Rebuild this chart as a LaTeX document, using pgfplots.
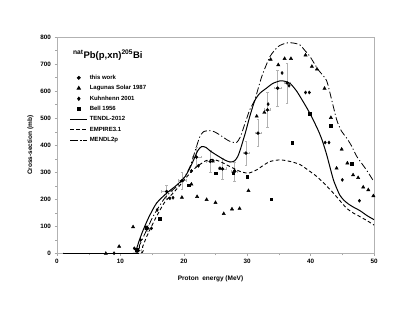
\documentclass[border=0pt]{standalone}
\usepackage{pgfplots}
\pgfplotsset{compat=1.18}
\usepackage{fontspec}
\setmainfont{Liberation Sans}
\usetikzlibrary{calc}

\begin{document}
\begin{tikzpicture}
\begin{axis}[
    scale only axis,
    width=317pt, height=216.5pt,
    xmin=0, xmax=50, ymin=0, ymax=800,
    xtick={0,10,...,50}, ytick={0,100,...,800},
    minor x tick num=1, minor y tick num=1,
    xtick pos=left, ytick pos=left,
    tick align=outside,
    major tick length=2.5pt, minor tick length=2pt,
    tick style={gray!70, line width=0.4pt},
    axis line style={gray!60, line width=0.6pt},
    ticklabel style={font=\fontsize{6.3}{7}\selectfont\bfseries},
    /pgf/number format/assume math mode=true,
    xlabel={Proton\ \ energy (MeV)},
    ylabel={Cross-section (mb)},
    label style={font=\fontsize{6.5}{8}\selectfont\bfseries},
    xlabel style={yshift=-5pt, xshift=-5pt},
    ylabel style={yshift=0pt},
    legend style={draw=none, fill=none, at={(0.04,0.835)}, anchor=north west,
        font=\fontsize{6}{7}\selectfont\bfseries, row sep=0.6pt,
        inner sep=0pt},
    legend cell align=left,
    legend image post style={line width=0.8pt},
    error bars/error bar style={gray!60, line width=0.5pt},
    error bars/error mark options={rotate=90, mark size=1.3pt, gray!60},
]
\draw[gray!60, line width=1.6pt] (rel axis cs:0,0) -- (rel axis cs:0,1);
\draw[gray!60, line width=1.2pt] (rel axis cs:0,0) -- (rel axis cs:1,0);
\coordinate (bl) at (rel axis cs:0,0);
\coordinate (tr) at (rel axis cs:1,1);

% this work
\addplot[only marks, mark=*, mark size=1.5pt, black,
    error bars/.cd, y dir=both, y explicit, x dir=both, x explicit]
  table[x=E, y=s, x error=dE, y error=ds] {
E     s    dE   ds
12.8  12   0.5  3
14.3  93   0.5  10
17.3  229  0.8  25
19.7  269  0.6  30
22.0  356  0.7  35
24.2  340  0.6  40
26.1  313  0.6  40
28.0  303  0.5  35
29.8  371  0.5  45
31.7  445  0.5  50
33.2  531  0.5  65
34.8  611  0.5  68
36.3  630  0.5  74
};
\addlegendentry{this work}

% Lagunas Solar 1987
\addplot[only marks, mark=triangle*, mark size=1.9pt, black] coordinates {
(7.7,0) (9.8,26) (12.0,98) (19.7,207) (21.2,256) (22.1,210) (23.6,199)
(25.0,188) (26.3,147) (27.6,164) (28.8,166) (30.2,232) (31.5,507) (32.7,521)
(33.7,717) (34.9,697) (35.9,720) (36.9,720) (39.2,733) (40.2,691) (41.0,681)
(42.2,610) (43.2,502) (44.1,315) (44.9,385) (45.8,334) (46.7,290) (47.5,280)
(48.3,245) (49.1,235) (49.9,213)
};
\addlegendentry{Lagunas Solar 1987}

% Kuhnhenn 2001
\addplot[only marks, mark=diamond*, mark size=1.6pt, black] coordinates {
(9.0,1) (12.2,19) (13.2,50) (14.9,93) (15.8,161) (17.8,204) (18.3,206)
(21.2,305) (22.3,324) (24.6,342) (25.7,315) (28.0,306) (33.3,552) (35.5,667)
(36.6,620) (39.2,595) (39.8,595) (42.3,410) (42.9,410) (45.0,272) (47.7,195)
};
\addlegendentry{Kuhnhenn 2001}

% Bell 1956
\addplot[only marks, mark=square*, mark size=1.3pt, black] coordinates {
(12.6,14) (14.1,95) (16.2,128) (20.8,253) (25.0,297) (27.8,297) (30.0,284)
(33.8,200) (37.1,410) (39.9,516) (43.2,473) (46.5,331)
};
\addlegendentry{Bell 1956}

% TENDL-2012
\addplot[black, line width=1pt, smooth, tension=0.4] coordinates {
(1,0) (12,0) (12.5,15) (13,50) (13.6,87) (14.5,135) (15.7,186) (17.3,223)
(18.9,253) (20.2,284) (21,318) (21.5,343) (22.2,380) (22.8,395) (23.5,392)
(24.1,380) (25,366) (25.7,356) (26.5,345) (27.3,338) (28,342) (28.5,358)
(28.9,383) (29.7,445) (30.4,506) (31.2,565) (32,592) (33.1,612) (34,628)
(35.2,638) (36,636) (36.8,628) (37.8,600) (38.8,562) (39.6,530) (40.4,494)
(41.2,455) (41.8,420) (42.5,368) (43.1,315) (43.6,272) (44.1,242) (44.6,216)
(45.2,198) (45.9,184) (46.7,172) (47.8,158) (48.9,140) (50,125)
};
\addlegendentry{TENDL-2012}

% EMPIRE3.1
\addplot[black, line width=0.9pt, dash pattern=on 3.5pt off 2.5pt, smooth, tension=0.4] coordinates {
(1,0) (12.8,0) (13.5,25) (14.1,60) (15,105) (16,150) (17,190) (18.3,223)
(19.5,255) (20.5,284) (21.5,310) (22.6,330) (23.5,343) (24.5,348) (25.7,340)
(27.3,321) (28.9,303) (30.2,297) (31.5,309) (32.5,325) (33.6,340) (35.2,346)
(36.8,340) (38.3,329) (39.5,310) (41.0,284) (42.3,255) (43.6,223) (44.7,193)
(45.7,167) (46.7,150) (47.8,136) (49,120) (50,105)
};
\addlegendentry{EMPIRE3.1}

% MENDL2p
\addplot[black, line width=0.8pt, dash pattern=on 7pt off 2.5pt on 1.2pt off 2.5pt, smooth, tension=0.4] coordinates {
(1,0) (12.2,0) (13,30) (13.8,70) (15,130) (16,170) (17,205) (18,230)
(19,250) (20,278) (21,322) (21.8,380) (22.5,430) (23.1,450) (24.1,454)
(24.8,450) (25.7,438) (26.5,425) (27.3,414) (28.3,410) (28.9,430) (29.4,463)
(30.4,531) (31.2,568) (32.3,654) (33.6,728) (34.9,765) (36.2,778) (37.2,778)
(38.3,771) (39.1,750) (39.9,728) (41.2,679) (42.5,640) (43.3,570) (44.1,495)
(44.8,455) (45.7,426) (46.4,400) (47.3,358) (48.8,309) (50,265)
};
\addlegendentry{MENDL2p}

\node[anchor=west, font=\fontsize{9.5}{11}\selectfont\bfseries, inner sep=0pt]
  at (axis cs:2.5,734) {\textsuperscript{nat}Pb(p,xn)\textsuperscript{205}Bi};
\end{axis}
\pgfresetboundingbox
\path ($(bl)+(-57pt,-67.5pt)$) rectangle ($(tr)+(41pt,37pt)$);
\end{tikzpicture}
\end{document}
